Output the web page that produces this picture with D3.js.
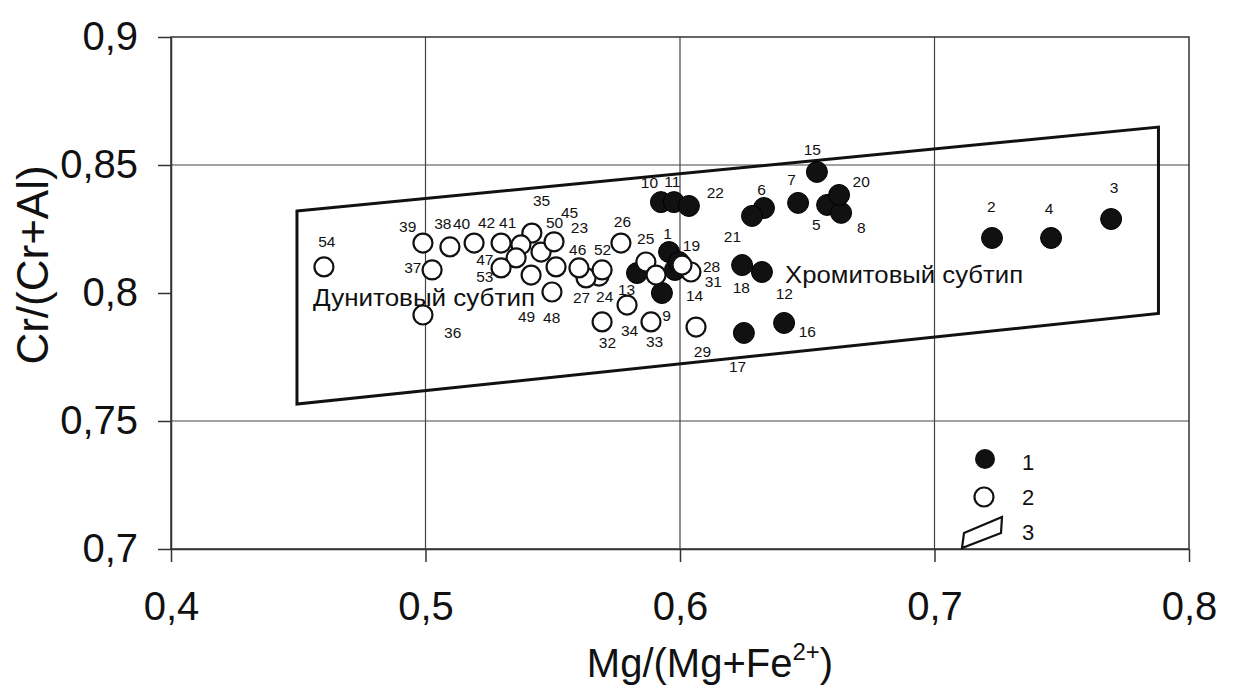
<!DOCTYPE html>
<html><head><meta charset="utf-8">
<script src="https://cdn.jsdelivr.net/npm/d3@7"></script>
<style>
html,body{margin:0;padding:0;background:#fff;}
text{font-family:"Liberation Sans",Arial,sans-serif;fill:#111;}
</style></head>
<body><svg id="chart" width="1234" height="694"></svg>
<script>
// ---------- data ----------
const xTicks = [0.4, 0.5, 0.6, 0.7, 0.8];
const yTicks = [0.7, 0.75, 0.8, 0.85, 0.9];
const xGrid = [0.5, 0.6, 0.7];
const yGrid = [0.75, 0.85];
const xTitle = "Mg/(Mg+Fe";
const yTitle = "Cr/(Cr+Al)";
const legendLabels = ["1", "2", "3"];
const regionText = ["Дунитовый субтип", "Хромитовый субтип"];
const regionTextPos = [[0.4558, 0.7948], [0.6413, 0.8039]];

// series 1: chromite subtype (filled)
const chromiteIds = [1,2,3,4,5,6,7,8,9,10,11,12,13,14,15,16,17,18,19,20,21,22];
const chromiteX = [0.5957,0.7226,0.7694,0.7458,0.6578,0.6330,0.6464,0.6633,0.5929,0.5925,0.5976,0.6322,0.5831,0.5980,0.6538,0.6409,0.6251,0.6244,0.5996,0.6625,0.6283,0.6035];
const chromiteY = [0.8160,0.8215,0.8289,0.8215,0.8344,0.8332,0.8352,0.8313,0.8000,0.8355,0.8355,0.8082,0.8078,0.8090,0.8473,0.7883,0.7844,0.8109,0.8121,0.8383,0.8301,0.8340];

// series 2: dunite subtype (open)
const duniteIds = [23,24,25,26,27,28,29,30,31,32,33,34,35,36,37,38,39,40,41,42,45,46,47,48,49,50,52,53,54];
const duniteX = [0.5513,0.5682,0.5866,0.5768,0.5631,0.6043,0.6063,0.5906,0.6008,0.5694,0.5886,0.5792,0.5418,0.4990,0.5026,0.5096,0.4990,0.5191,0.5375,0.5297,0.5454,0.5603,0.5356,0.5497,0.5415,0.5505,0.5694,0.5297,0.4601];
const duniteY = [0.8102,0.8066,0.8121,0.8195,0.8059,0.8082,0.7867,0.8070,0.8109,0.7887,0.7887,0.7953,0.8234,0.7914,0.8090,0.8180,0.8195,0.8195,0.8188,0.8195,0.8160,0.8098,0.8137,0.8004,0.8070,0.8200,0.8090,0.8098,0.8102];

// field outline (series 3)
const fieldX = [0.4495, 0.7880, 0.7880, 0.4495];
const fieldY = [0.8320, 0.8648, 0.7920, 0.7566];

// sample number labels (text, x, y in data units)
const labelText = ["1","2","3","4","5","6","7","8","9","10","11","12","13","14","15","16","17","18","19","20","21","22",
  "23","24","25","26","27","28","29","31","32","33","34","35","36","37","38","39","40","41","42","45","46","47","48","49","50","52","53","54"];
const labelX = [0.5951,0.7223,0.7706,0.7450,0.6536,0.6320,0.6438,0.6712,0.5947,0.5880,0.5970,0.6410,0.5790,0.6057,0.6520,0.6500,0.6226,0.6241,0.6045,0.6712,0.6206,0.6139,
  0.5605,0.5704,0.5865,0.5774,0.5613,0.6124,0.6088,0.6131,0.5715,0.5900,0.5802,0.5456,0.5107,0.4950,0.5068,0.4930,0.5142,0.5323,0.5240,0.5566,0.5598,0.5233,0.5496,0.5397,0.5507,0.5696,0.5233,0.4612];
const labelY = [0.8234,0.8336,0.8414,0.8332,0.8266,0.8406,0.8445,0.8254,0.7914,0.8430,0.8434,0.8000,0.8012,0.7992,0.8559,0.7848,0.7711,0.8020,0.8184,0.8434,0.8219,0.8391,
  0.8254,0.7988,0.8211,0.8281,0.7984,0.8105,0.7770,0.8043,0.7805,0.7809,0.7855,0.8363,0.7844,0.8098,0.8273,0.8258,0.8273,0.8277,0.8277,0.8313,0.8168,0.8129,0.7906,0.7910,0.8277,0.8168,0.8063,0.8200];

// ---------- drawing ----------
const svg = d3.select("#chart");
const x = d3.scaleLinear().domain([0.4, 0.8]).range([171, 1189]);
const y = d3.scaleLinear().domain([0.7, 0.9]).range([549, 37]);
const fmt = d => String(d).replace(".", ",");

// grid
svg.append("g").selectAll("line").data(xGrid).join("line")
  .attr("x1", d => x(d)).attr("x2", d => x(d)).attr("y1", y(0.9)).attr("y2", y(0.7))
  .attr("stroke", "#444").attr("stroke-width", 1.2);
svg.append("g").selectAll("line").data(yGrid).join("line")
  .attr("x1", x(0.4)).attr("x2", x(0.8)).attr("y1", d => y(d)).attr("y2", d => y(d))
  .attr("stroke", "#444").attr("stroke-width", 1.2);
// frame
svg.append("rect").attr("x", x(0.4)).attr("y", y(0.9))
  .attr("width", x(0.8) - x(0.4)).attr("height", y(0.7) - y(0.9))
  .attr("fill", "none").attr("stroke", "#333").attr("stroke-width", 1.5);

// axes
const xAxis = svg.append("g").attr("transform", `translate(0,${y(0.7)})`)
  .call(d3.axisBottom(x).tickValues(xTicks).tickFormat(fmt).tickSize(13).tickSizeOuter(0).tickPadding(30));
const yAxis = svg.append("g").attr("transform", `translate(${x(0.4)},0)`)
  .call(d3.axisLeft(y).tickValues(yTicks).tickFormat(fmt).tickSize(13).tickSizeOuter(0).tickPadding(20));
[xAxis, yAxis].forEach(a => {
  a.select(".domain").attr("stroke", "#333").attr("stroke-width", 1.5);
  a.selectAll(".tick line").attr("stroke", "#333").attr("stroke-width", 1.5);
  a.selectAll(".tick text").attr("font-size", 40).attr("font-family", "Liberation Sans, Arial").attr("fill", "#111");
});

// axis titles
const xt = svg.append("text").attr("x", 710).attr("y", 677).attr("text-anchor", "middle").attr("font-size", 40);
xt.append("tspan").text(xTitle);
xt.append("tspan").text("2+").attr("font-size", 24).attr("dy", -17);
xt.append("tspan").text(")").attr("dy", 17);
svg.append("text").attr("transform", "translate(48,265) rotate(-90)")
  .attr("text-anchor", "middle").attr("font-size", 44).text(yTitle);

// field polygon
svg.append("polygon")
  .attr("points", fieldX.map((d, i) => [x(d), y(fieldY[i])].join(",")).join(" "))
  .attr("fill", "none").attr("stroke", "#111").attr("stroke-width", 3);

// region texts
svg.append("g").selectAll("text").data(regionText).join("text")
  .attr("x", (d, i) => x(regionTextPos[i][0])).attr("y", (d, i) => y(regionTextPos[i][1]))
  .attr("font-size", 24).attr("textLength", (d, i) => i === 0 ? 222 : 238)
  .attr("lengthAdjust", "spacingAndGlyphs").text(d => d);

// filled points
const chromite = chromiteIds.map((id, i) => ({id, x: chromiteX[i], y: chromiteY[i]}));
const dunite = duniteIds.map((id, i) => ({id, x: duniteX[i], y: duniteY[i]}));
svg.append("g").selectAll("circle").data(chromite).join("circle")
  .attr("cx", d => x(d.x)).attr("cy", d => y(d.y)).attr("r", 10.5)
  .attr("fill", "#111").attr("stroke", "#000").attr("stroke-width", 1);
svg.append("g").selectAll("circle").data(dunite).join("circle")
  .attr("cx", d => x(d.x)).attr("cy", d => y(d.y)).attr("r", 9.5)
  .attr("fill", "#fff").attr("stroke", "#111").attr("stroke-width", 2.2);

// sample labels
svg.append("g").selectAll("text").data(labelText).join("text")
  .attr("x", (d, i) => x(labelX[i])).attr("y", (d, i) => y(labelY[i]))
  .attr("text-anchor", "middle").attr("dominant-baseline", "central")
  .attr("font-size", 15.5).text(d => d);

// legend
const lg = svg.append("g");
lg.append("circle").attr("cx", 985).attr("cy", 459).attr("r", 10).attr("fill", "#111");
lg.append("circle").attr("cx", 984).attr("cy", 497).attr("r", 9.5).attr("fill", "#fff").attr("stroke", "#111").attr("stroke-width", 2.2);
lg.append("polygon").attr("points", "962,548 964,533 1002,517 1001,533")
  .attr("fill", "none").attr("stroke", "#111").attr("stroke-width", 2.2);
lg.selectAll("text").data(legendLabels).join("text")
  .attr("x", 1028).attr("y", (d, i) => [462, 497, 532][i])
  .attr("text-anchor", "middle").attr("dominant-baseline", "central")
  .attr("font-size", 22).text(d => d);
</script></body></html>
